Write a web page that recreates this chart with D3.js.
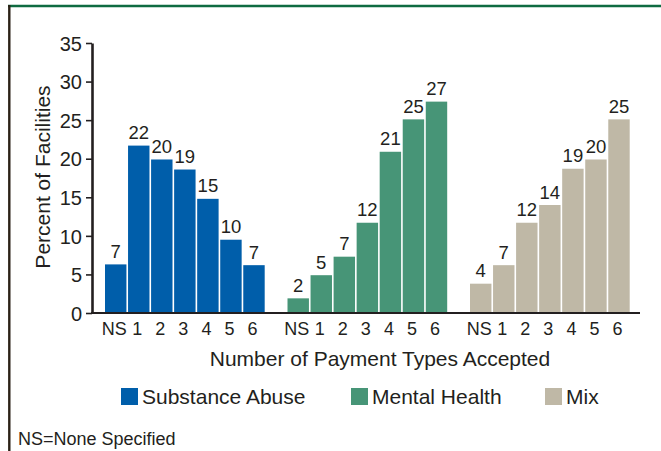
<!DOCTYPE html>
<html>
<head>
<meta charset="utf-8">
<script src="https://cdn.jsdelivr.net/npm/d3@7"></script>
<style>
  html, body { margin: 0; padding: 0; background: #fff; }
  svg { display: block; font-family: "Liberation Sans", Arial, Helvetica, sans-serif; }
</style>
</head>
<body>
<svg id="chart" width="661" height="451"></svg>
<script>
// ---- data ----
const categories = ["NS", "1", "2", "3", "4", "5", "6"];
const groups = ["Substance Abuse", "Mental Health", "Mix"];
const substanceAbuse = [6.3, 21.7, 19.9, 18.6, 14.8, 9.5, 6.2];
const mentalHealth   = [1.9, 4.9, 7.3, 11.7, 20.9, 25.1, 27.4];
const mix            = [3.8, 6.2, 11.7, 14.0, 18.7, 19.9, 25.1];
const substanceAbuseLabels = ["7", "22", "20", "19", "15", "10", "7"];
const mentalHealthLabels   = ["2", "5", "7", "12", "21", "25", "27"];
const mixLabels            = ["4", "7", "12", "14", "19", "20", "25"];
const yTicks = [0, 5, 10, 15, 20, 25, 30, 35];
const colors = ["#005eaa", "#479577", "#bfb8a6"];

const seriesValues = [substanceAbuse, mentalHealth, mix];
const seriesLabels = [substanceAbuseLabels, mentalHealthLabels, mixLabels];

const textColor = "#231f20";
const svg = d3.select("#chart");

// frame
svg.append("line").attr("x1", 8).attr("x2", 661).attr("y1", 6).attr("y2", 6)
  .attr("stroke", "#0f6b41").attr("stroke-width", 2.6);
svg.append("line").attr("x1", 9.3).attr("x2", 9.3).attr("y1", 5).attr("y2", 451)
  .attr("stroke", "#2b2116").attr("stroke-width", 2.4);

// scales
const y = d3.scaleLinear().domain([0, 35]).range([313, 43]);
const x0 = d3.scaleBand().domain(groups).range([105, 629.7]).paddingInner(0.125).paddingOuter(0);
const x1 = d3.scaleBand().domain(categories).range([0, x0.bandwidth()]).paddingInner(0.07).paddingOuter(0);

// bars
groups.forEach((g, gi) => {
  const gg = svg.append("g").attr("transform", `translate(${x0(g)},0)`);
  gg.selectAll("rect").data(seriesValues[gi]).join("rect")
    .attr("x", (d, i) => x1(categories[i]))
    .attr("y", d => y(d))
    .attr("width", x1.bandwidth())
    .attr("height", d => y(0) - y(d))
    .attr("fill", colors[gi]);
  gg.selectAll("text.val").data(seriesValues[gi]).join("text")
    .attr("class", "val")
    .attr("x", (d, i) => x1(categories[i]) + x1.bandwidth() / 2)
    .attr("y", d => y(d) - 6.5)
    .attr("text-anchor", "middle")
    .attr("font-size", 18.5)
    .attr("fill", textColor)
    .text((d, i) => seriesLabels[gi][i]);
  // category tick labels
  const ax = d3.axisBottom(x1).tickSize(0).tickPadding(0);
  const axg = gg.append("g").attr("transform", `translate(-1.5,${y(0)})`).call(ax);
  axg.select(".domain").remove();
  axg.selectAll("text").attr("font-size", 18).attr("fill", textColor)
    .attr("dy", null).attr("y", 22);
});

// x baseline
svg.append("line").attr("x1", 91).attr("x2", 640).attr("y1", y(0)).attr("y2", y(0))
  .attr("stroke", textColor).attr("stroke-width", 2.2);

// y axis
const yAxis = d3.axisLeft(y).tickValues(yTicks).tickSize(6).tickSizeOuter(0).tickPadding(4);
const yg = svg.append("g").attr("transform", "translate(92,0)").call(yAxis);
yg.select(".domain").attr("stroke", textColor).attr("stroke-width", 2.6);
yg.selectAll(".tick line").attr("stroke", textColor).attr("stroke-width", 1.6);
yg.selectAll(".tick text").attr("font-size", 20).attr("fill", textColor)
  .attr("font-family", "'Liberation Sans', Arial, sans-serif").attr("dy", "0.36em");

// axis titles
svg.append("text")
  .attr("transform", "translate(50,177) rotate(-90)")
  .attr("text-anchor", "middle").attr("font-size", 21).attr("fill", textColor)
  .text("Percent of Facilities");
svg.append("text")
  .attr("x", 380).attr("y", 366)
  .attr("text-anchor", "middle").attr("font-size", 21).attr("fill", textColor)
  .text("Number of Payment Types Accepted");

// legend
const legendX = [121, 351, 545];
groups.forEach((g, gi) => {
  svg.append("rect").attr("x", legendX[gi]).attr("y", 388).attr("width", 17).attr("height", 17)
    .attr("fill", colors[gi]);
  svg.append("text").attr("x", legendX[gi] + 21).attr("y", 404)
    .attr("font-size", 21).attr("fill", textColor).text(g);
});

// footnote
svg.append("text").attr("x", 18).attr("y", 445)
  .attr("font-size", 18).attr("fill", textColor).text("NS=None Specified");
</script>
</body>
</html>
